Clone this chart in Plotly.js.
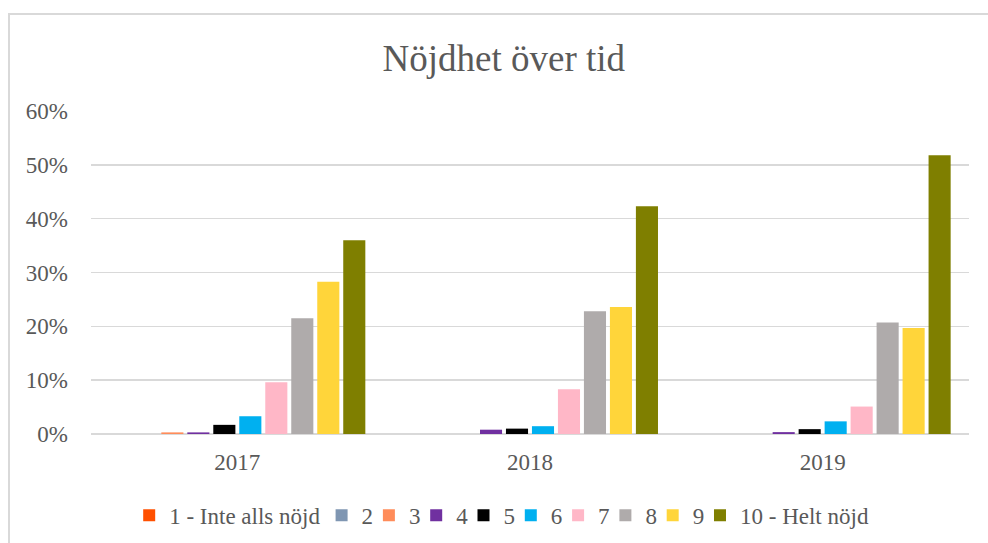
<!DOCTYPE html>
<html>
<head>
<meta charset="utf-8">
<script src="https://cdn.plot.ly/plotly-3.0.1.min.js"></script>
<style>
  html, body { margin: 0; padding: 0; background: #fff; overflow: hidden; width: 988px; height: 543px; }
  #frame { position: absolute; left: 8px; top: 13px; width: 1100px; height: 700px; border: 2px solid #d9d9d9; box-sizing: border-box; pointer-events: none; z-index: 2; }
  #chart { position: absolute; left: 0; top: 0; width: 988px; height: 543px; }
</style>
</head>
<body>
<div id="chart"></div>
<div id="frame"></div>
<script>
// Data
var years = ["2017", "2018", "2019"];
var seriesNames = ["1 - Inte alls nöjd", "2", "3", "4", "5", "6", "7", "8", "9", "10 - Helt nöjd"];
var s1 = [0, 0, 0];
var s2 = [0, 0, 0];
var s3 = [0.3, 0, 0];
var s4 = [0.3, 0.8, 0.35];
var s5 = [1.7, 1.0, 0.9];
var s6 = [3.3, 1.45, 2.35];
var s7 = [9.6, 8.3, 5.1];
var s8 = [21.5, 22.8, 20.7];
var s9 = [28.3, 23.6, 19.7];
var s10 = [36.0, 42.3, 51.8];
var seriesValues = [s1, s2, s3, s4, s5, s6, s7, s8, s9, s10];
var yTicks = [0, 10, 20, 30, 40, 50, 60];
var yTickLabels = ["0%", "10%", "20%", "30%", "40%", "50%", "60%"];

// Styles
var colors = ["#FF5000", "#7F96B2", "#FF8C5A", "#7030A0", "#000000", "#00B0F0", "#FFB7C7", "#AFABAB", "#FFD53A", "#7F7F00"];
var legendWidths = [147.4, 2.3, 2.3, 2.3, 2.3, 2.3, 2.3, 2.3, 2.3, 128];
var fontFam = '"Liberation Serif", "Times New Roman", serif';
var txtColor = "#595959";

var traces = seriesNames.map(function (name, i) {
  return {
    type: "bar",
    name: name,
    x: years,
    y: seriesValues[i],
    marker: { color: colors[i], line: { width: 0 } },
    legendwidth: legendWidths[i],
    hoverinfo: "name+y"
  };
});

var layout = {
  width: 988,
  height: 543,
  paper_bgcolor: "#ffffff",
  plot_bgcolor: "#ffffff",
  margin: { l: 91, r: 19, t: 111, b: 109, autoexpand: false },
  barmode: "group",
  bargap: 0.112,
  bargroupgap: 0.15,
  font: { family: fontFam, color: txtColor, size: 23 },
  title: {
    text: "Nöjdhet över tid",
    font: { family: fontFam, color: txtColor, size: 37 },
    xref: "container", x: 0.51, xanchor: "center",
    yref: "container", y: 0.893, yanchor: "middle"
  },
  xaxis: {
    type: "category",
    showgrid: false,
    showline: false,
    zeroline: false,
    ticks: "",
    ticklabelstandoff: 12,
    tickfont: { family: fontFam, color: txtColor, size: 23 },
    automargin: false
  },
  yaxis: {
    range: [0, 60],
    tickmode: "array",
    tickvals: yTicks,
    ticktext: yTickLabels,
    showgrid: true,
    gridcolor: "#d9d9d9",
    gridwidth: 1.4,
    zeroline: true,
    zerolinecolor: "#d9d9d9",
    zerolinewidth: 1.6,
    showline: false,
    ticks: "",
    ticklabelstandoff: 22,
    tickfont: { family: fontFam, color: txtColor, size: 23 },
    fixedrange: true,
    automargin: false
  },
  showlegend: true,
  legend: {
    orientation: "h",
    x: 0.0435, xanchor: "left",
    y: -0.2515, yanchor: "middle",
    font: { family: fontFam, color: txtColor, size: 23 },
    bgcolor: "rgba(0,0,0,0)",
    itemwidth: 30,
    traceorder: "normal"
  }
};

Plotly.newPlot("chart", traces, layout, { displayModeBar: false, staticPlot: true });
</script>
</body>
</html>
